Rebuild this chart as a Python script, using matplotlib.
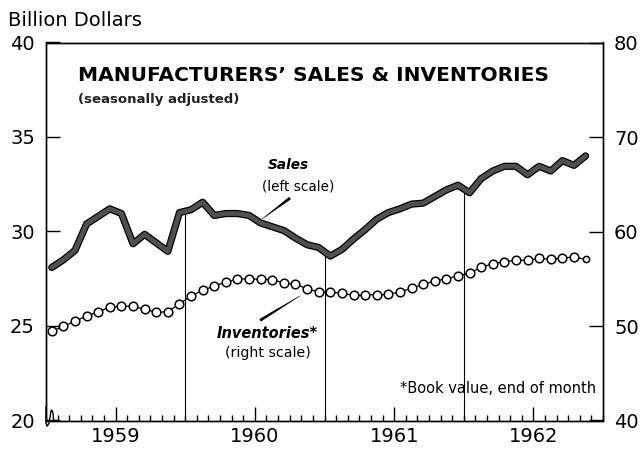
import matplotlib
matplotlib.use("Agg")
import matplotlib.pyplot as plt
import matplotlib.patheffects as pe
from matplotlib.patches import Polygon
import numpy as np

# ---- data (monthly, Jan 1959 - Nov 1962) ----
sales = [28.1, 28.5, 29.0, 30.4, 30.8, 31.2, 30.95, 29.35, 29.85, 29.4, 28.95, 31.0,
         31.15, 31.55, 30.85, 30.95, 30.95, 30.85, 30.45, 30.25, 30.05, 29.65, 29.3, 29.15,
         28.7, 29.05, 29.6, 30.1, 30.65, 31.0, 31.2, 31.45, 31.5, 31.85, 32.2, 32.45,
         32.05, 32.8, 33.2, 33.45, 33.45, 33.0, 33.45, 33.2, 33.75, 33.5, 34.0]
inventories = [49.45, 49.95, 50.5, 51.05, 51.5, 52.0, 52.1, 52.1, 51.75, 51.45, 51.5, 52.35,
               53.15, 53.8, 54.2, 54.65, 54.95, 55.0, 54.95, 54.9, 54.55, 54.4, 53.95, 53.6,
               53.6, 53.45, 53.25, 53.3, 53.3, 53.35, 53.6, 54.0, 54.4, 54.75, 55.0, 55.3,
               55.6, 56.2, 56.6, 56.8, 56.95, 56.95, 57.15, 57.05, 57.2, 57.3, 57.05]
years = ["1959", "1960", "1961", "1962"]
left_ticks = [20, 25, 30, 35, 40]
right_ticks = [40, 50, 60, 70, 80]

FONT = "DejaVu Sans"
plt.rcParams['font.family'] = [FONT]

W, H = 640, 449
fig = plt.figure(figsize=(W / 100, H / 100), dpi=100)
L, R, T, B = 46, 603, 42.5, 420.5
ax = fig.add_axes([L / W, 1 - B / H, (R - L) / W, (B - T) / H])
ax2 = ax.twinx()

n = len(sales)
x = np.arange(n) + 0.5
nmonths = 12 * len(years)

ax.set_xlim(0, nmonths)
ax.set_ylim(left_ticks[0], left_ticks[-1])
ax2.set_ylim(right_ticks[0], right_ticks[-1])

# year separator drop lines from the sales line to the axis
for k in range(1, len(years)):
    xb = 12 * k
    yb = np.interp(xb, x, sales)
    ax.plot([xb, xb], [left_ticks[0], yb], color="black", lw=0.8, zorder=2)

# inventories (right scale)
ax2.plot(x[:-1], inventories[:-1], color="black", lw=0.9, marker="o", ms=6.2,
         mfc="white", mec="black", mew=1.1, zorder=3)
ax2.plot(x[-2:], inventories[-2:], color="black", lw=0.9, zorder=2)
ax2.plot(x[-1:], inventories[-1:], ls="none", marker="o", ms=4.5,
         mfc="white", mec="black", mew=1.1, zorder=3)

# sales (left scale)
ax.plot(x, sales, color="#505050", lw=3.4, solid_joinstyle="round", solid_capstyle="round",
        path_effects=[pe.Stroke(linewidth=5.2, foreground="black"), pe.Normal()], zorder=4)
ax.set_zorder(ax2.get_zorder() + 1)
ax.patch.set_visible(False)

# ticks
ax.set_yticks(left_ticks)
ax.set_yticklabels([str(v) for v in left_ticks])
ax2.set_yticks(right_ticks)
ax2.set_yticklabels([str(v) for v in right_ticks])
ax.tick_params(axis="y", direction="in", length=10, width=1, pad=8, labelsize=14)
ax2.tick_params(axis="y", direction="in", length=10, width=1, pad=8, labelsize=14)

ax.set_xticks([12 * k + 6 for k in range(len(years))])
ax.set_xticklabels(years)
ax.set_xticks(np.arange(0, nmonths + 1), minor=True)
ax.tick_params(axis="x", which="major", direction="in", length=10, width=1, pad=5, labelsize=14)
ax.tick_params(axis="x", which="minor", direction="in", length=4.5, width=1)
ax.tick_params(axis="x", top=False, which="both")

for a in (ax, ax2):
    for s in a.spines.values():
        s.set_linewidth(1.0)
        s.set_color("black")

# axis-break squiggle at bottom-left
sq_x = [0.0, 0.0, 0.1, 0.25, 0.38, 0.42, 0.5, 0.6, 0.66, 0.9]
sq_y = [0.7, -0.15, -0.3, -0.15, 0.3, 0.5, 0.55, 0.4, 0.0, 0.0]
ax.plot(sq_x, [left_ticks[0] + v for v in sq_y], color="black", lw=1.0, clip_on=False, zorder=6)

# texts
fig.text(8 / W, 1 - 21 / H, "Billion Dollars", fontsize=14, va="center", ha="left")
ax.text(2.75, 38.28, "MANUFACTURERS\u2019 SALES & INVENTORIES", fontsize=14.5,
        fontweight="bold", ha="left", va="center")
ax.text(2.75, 37.0, "(seasonally adjusted)", fontsize=9.5, fontweight="bold",
        ha="left", va="center", color="#222222")

ax.text(20.9, 33.5, "Sales", fontsize=9.8, fontweight="bold", style="italic",
        ha="center", va="center")
ax.text(21.7, 32.4, "(left scale)", fontsize=9.8, ha="center", va="center")
ax.text(19.05, 24.58, "Inventories*", fontsize=10.5, fontweight="bold", style="italic",
        ha="center", va="center")
ax.text(19.15, 23.57, "(right scale)", fontsize=10.2, ha="center", va="center")
ax.text(47.4, 21.67, "*Book value, end of month", fontsize=10.5, ha="right", va="center")


def leader(x0, y0, x1, y1, w0, w1):
    # tapered leader: width w0 at (x0,y0), w1 at (x1,y1) -- in pixels
    p0 = ax.transData.transform((x0, y0))
    p1 = ax.transData.transform((x1, y1))
    d = p1 - p0
    nrm = np.array([-d[1], d[0]]) / np.hypot(*d)
    pts = [p0 + nrm * w0 / 2, p1 + nrm * w1 / 2, p1 - nrm * w1 / 2, p0 - nrm * w0 / 2]
    pts = ax.transData.inverted().transform(pts)
    ax.add_patch(Polygon(pts, closed=True, color="black", lw=0, zorder=5))


leader(21.03, 31.77, 18.62, 30.66, 3.0, 0.5)
leader(21.9, 26.6, 18.45, 25.3, 0.5, 3.0)

fig.savefig("out.png", dpi=100, facecolor="white")
